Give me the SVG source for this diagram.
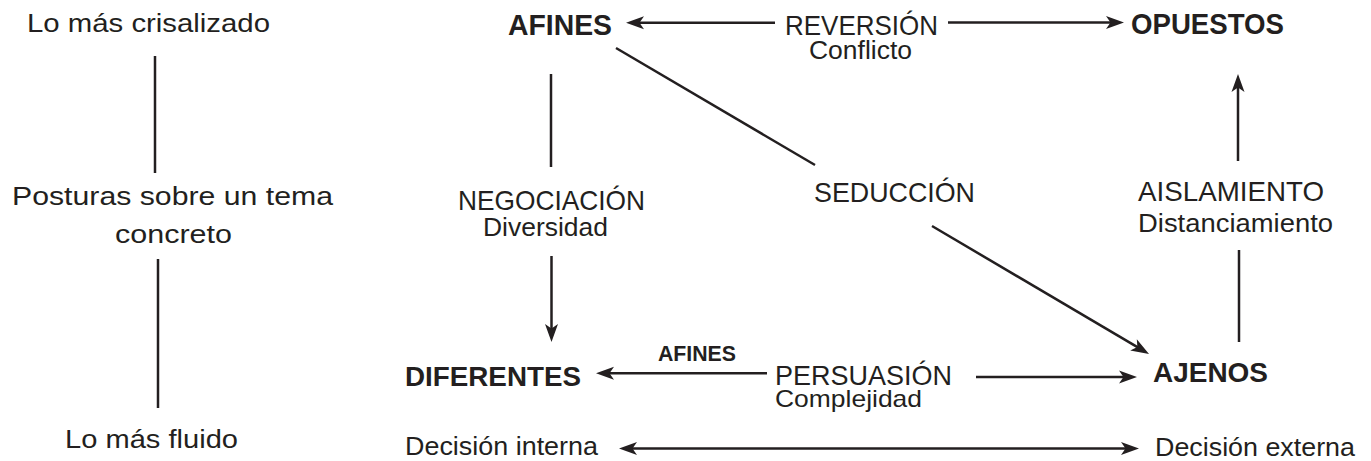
<svg xmlns="http://www.w3.org/2000/svg" width="1371" height="461" viewBox="0 0 1371 461">
<style>
  text { font-family: "Liberation Sans", Arial, sans-serif; fill: #231f20; }
  .lt { font-size: 28px; }
  .sub { font-size: 26px; }
  .side { font-size: 25px; }
  .bd { font-weight: bold; font-size: 30px; }
  .bds { font-weight: bold; font-size: 22px; }
  .ln { stroke: #231f20; stroke-width: 2.5; fill: none; }
  .ar { marker-end: url(#ah); }
  .ar2 { marker-start: url(#ah); marker-end: url(#ah); }
</style>
<defs>
  <marker id="ah" viewBox="-20 -8 22 16" refX="-10" refY="0" markerWidth="22" markerHeight="16" orient="auto-start-reverse" markerUnits="userSpaceOnUse">
    <path d="M0,0 L-18,-6.5 L-13.5,0 L-18,6.5 Z" fill="#231f20"/>
  </marker>
</defs>

<g id="connectors">
  <line class="ln" x1="155" y1="56" x2="155" y2="173"/>
  <line class="ln" x1="158" y1="259" x2="158" y2="408"/>
  <line class="ln ar" x1="775" y1="22.7" x2="636" y2="22.7"/>
  <line class="ln ar" x1="948" y1="22.5" x2="1114" y2="22.5"/>
  <line class="ln ar" x1="1238" y1="161" x2="1238" y2="84"/>
  <line class="ln" x1="1239" y1="250" x2="1239" y2="342"/>
  <line class="ln" x1="616" y1="48" x2="815" y2="165"/>
  <line class="ln ar" x1="932" y1="226" x2="1140.4" y2="348.9"/>
  <line class="ln" x1="551" y1="74" x2="551" y2="167"/>
  <line class="ln ar" x1="551.5" y1="256" x2="551.5" y2="332"/>
  <line class="ln ar" x1="767" y1="373.3" x2="606" y2="373.3"/>
  <line class="ln ar" x1="976" y1="377" x2="1127" y2="377"/>
  <line class="ln ar2" x1="629" y1="448.5" x2="1129" y2="448.5"/>
</g>

<g id="scale">
  <text class="side" x="27" y="32" textLength="243" lengthAdjust="spacingAndGlyphs">Lo más crisalizado</text>
  <text class="side" x="12" y="205" textLength="321" lengthAdjust="spacingAndGlyphs">Posturas sobre un tema</text>
  <text class="side" x="115" y="243" textLength="117" lengthAdjust="spacingAndGlyphs">concreto</text>
  <text class="side" x="65" y="448" textLength="173" lengthAdjust="spacingAndGlyphs">Lo más fluido</text>
</g>

<g id="afines"><text class="bd" x="508" y="35" textLength="104" lengthAdjust="spacingAndGlyphs">AFINES</text></g>
<g id="opuestos"><text class="bd" x="1131" y="34" textLength="153" lengthAdjust="spacingAndGlyphs">OPUESTOS</text></g>
<g id="diferentes"><text class="bd" x="405" y="386" textLength="176" lengthAdjust="spacingAndGlyphs" style="font-size:28px">DIFERENTES</text></g>
<g id="ajenos"><text class="bd" x="1153" y="382" textLength="115" lengthAdjust="spacingAndGlyphs" style="font-size:28px">AJENOS</text></g>

<g id="reversion">
  <text class="lt" x="785" y="35" textLength="153" lengthAdjust="spacingAndGlyphs">REVERSIÓN</text>
  <text class="sub" x="809" y="59" textLength="103" lengthAdjust="spacingAndGlyphs">Conflicto</text>
</g>
<g id="seduccion">
  <text class="lt" x="814" y="202" textLength="161" lengthAdjust="spacingAndGlyphs">SEDUCCIÓN</text>
</g>
<g id="aislamiento">
  <text class="lt" x="1138" y="201" textLength="186" lengthAdjust="spacingAndGlyphs">AISLAMIENTO</text>
  <text class="sub" x="1138" y="232" textLength="195" lengthAdjust="spacingAndGlyphs">Distanciamiento</text>
</g>
<g id="negociacion">
  <text class="lt" x="458" y="210" textLength="187" lengthAdjust="spacingAndGlyphs">NEGOCIACIÓN</text>
  <text class="sub" x="483" y="236" textLength="125" lengthAdjust="spacingAndGlyphs">Diversidad</text>
</g>
<g id="persuasion">
  <text class="bds" x="658" y="361" textLength="78" lengthAdjust="spacingAndGlyphs">AFINES</text>
  <text class="lt" x="775" y="385" textLength="177" lengthAdjust="spacingAndGlyphs">PERSUASIÓN</text>
  <text class="sub" x="775" y="407" textLength="147" lengthAdjust="spacingAndGlyphs" style="font-size:24px">Complejidad</text>
</g>
<g id="decision">
  <text class="side" x="405" y="455" textLength="193" lengthAdjust="spacingAndGlyphs">Decisión interna</text>
  <text class="side" x="1155" y="456" textLength="200" lengthAdjust="spacingAndGlyphs">Decisión externa</text>
</g>
</svg>
